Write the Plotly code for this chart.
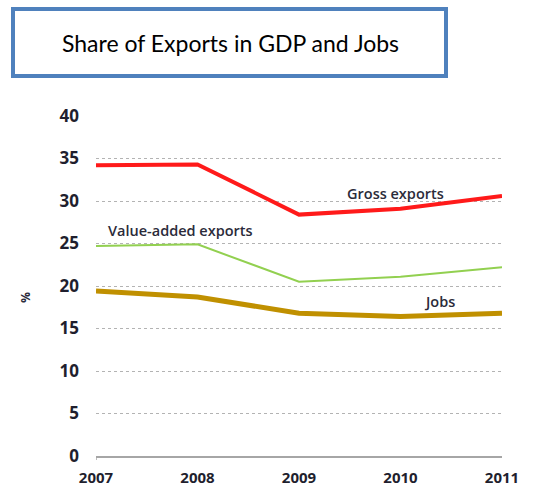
import plotly.graph_objects as go

years = [2007, 2008, 2009, 2010, 2011]
gross_exports = [34.2, 34.3, 28.4, 29.1, 30.6]
value_added_exports = [24.7, 24.9, 20.5, 21.1, 22.2]
jobs = [19.4, 18.7, 16.8, 16.4, 16.8]
y_ticks = [0, 5, 10, 15, 20, 25, 30, 35, 40]

W, H = 554, 487
L, R, T, B = 96, 52, 116, 31
pw, ph = W - L - R, H - T - B


def px_x(p):
    return (p - L) / pw


def px_y(p):
    return (H - B - p) / ph


fig = go.Figure()
fig.add_trace(go.Scatter(x=years, y=gross_exports, mode="lines",
                         line=dict(color="#ff1a1a", width=4)))
fig.add_trace(go.Scatter(x=years, y=value_added_exports, mode="lines",
                         line=dict(color="#92d050", width=2)))
fig.add_trace(go.Scatter(x=years, y=jobs, mode="lines",
                         line=dict(color="#c09000", width=5)))

lab_font = dict(family="Open Sans, sans-serif", size=14.5, color="#2b2b3a", weight=600)
fig.add_annotation(x=2009.95, y=gross_exports[3] + 1.8, text="Gross exports",
                   showarrow=False, font=lab_font, xanchor="center", yanchor="middle")
fig.add_annotation(x=2007.1, y=value_added_exports[0] + 1.8, text="Value-added exports",
                   showarrow=False, font=lab_font, xanchor="left", yanchor="middle")
fig.add_annotation(x=2010.38, y=jobs[3] + 1.75, text="Jobs",
                   showarrow=False, font=lab_font, xanchor="center", yanchor="middle")

# Y-axis unit label
fig.add_annotation(xref="paper", yref="paper", x=px_x(26), y=px_y(297), text="<b>%</b>",
                   showarrow=False, textangle=90, xanchor="center", yanchor="middle",
                   font=dict(family="Open Sans, sans-serif", size=12, color="#2b2b3a"))

# Small tick at the start of the x axis
fig.add_shape(type="line", xref="x", yref="paper", x0=years[0], x1=years[0],
              y0=0, y1=-4 / ph, line=dict(color="#a6a6a6", width=1.5))

# Boxed title
fig.add_shape(type="rect", xref="paper", yref="paper",
              x0=px_x(13), x1=px_x(446), y0=px_y(76), y1=px_y(9),
              line=dict(color="#4f81bd", width=4), fillcolor="white", layer="above")
fig.add_annotation(xref="paper", yref="paper", x=px_x(230), y=px_y(43),
                   xanchor="center", yanchor="middle",
                   text="Share of Exports in GDP and Jobs", showarrow=False,
                   font=dict(family="Lato, sans-serif", size=23, color="black"))

tick_font = dict(family="Open Sans, sans-serif", color="#1f1f2e", weight="bold")
fig.update_layout(
    width=W, height=H, margin=dict(l=L, r=R, t=T, b=B, autoexpand=False),
    paper_bgcolor="white", plot_bgcolor="white", showlegend=False,
    xaxis=dict(range=[2007, 2011], tickvals=years, ticktext=[str(y) for y in years],
               showgrid=False, zeroline=False, showline=True, linecolor="#a6a6a6",
               linewidth=2, ticks="", ticklabelstandoff=7, automargin=False,
               tickfont=dict(size=15, **tick_font)),
    yaxis=dict(range=[0, 40], tickvals=y_ticks, showgrid=True, gridcolor="#b3b3b3",
               griddash="dot", gridwidth=1, zeroline=False, ticks="",
               ticklabelstandoff=16, automargin=False,
               tickfont=dict(size=17, **tick_font)),
)

fig.write_html("out.html")
